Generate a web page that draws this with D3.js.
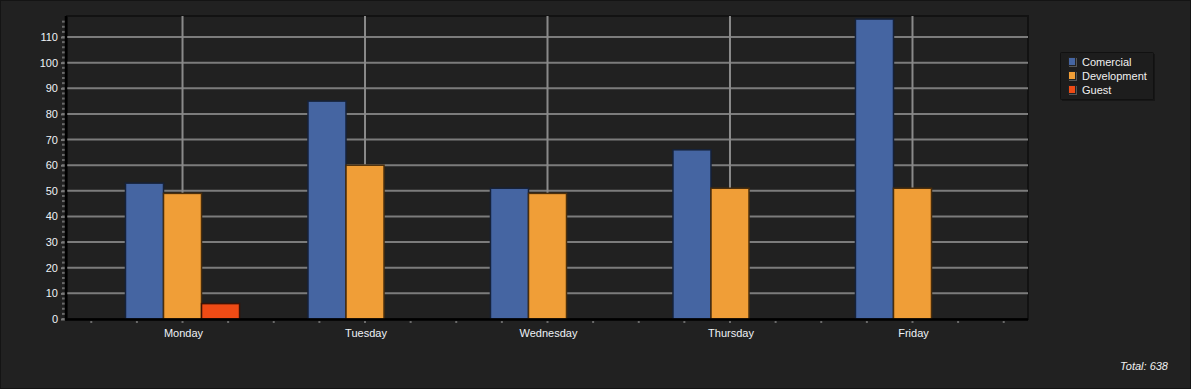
<!DOCTYPE html>
<html>
<head>
<meta charset="utf-8">
<script src="https://cdn.jsdelivr.net/npm/d3@7"></script>
<style>
  html, body { margin: 0; padding: 0; background: #212121; }
  svg { display: block; font-family: "Liberation Sans", Arial, sans-serif; }
</style>
</head>
<body>
<svg class="chart"></svg>
<script>
// chart data
var days = ["Monday", "Tuesday", "Wednesday", "Thursday", "Friday"];
var series = ["Comercial", "Development", "Guest"];
var comercial = [53, 85, 51, 66, 117];
var development = [49, 60, 49, 51, 51];
var guest = [6, 0, 0, 0, 0];
var yTicks = [0, 10, 20, 30, 40, 50, 60, 70, 80, 90, 100, 110];

var colors = {Comercial: "#4565a2", Development: "#f09e37", Guest: "#ef4b15"};
var strokes = {Comercial: "#16223a", Development: "#4a2e0c", Guest: "#3c1306"};

var W = 1191, H = 389;
var plot = {left: 67, right: 1028, top: 16, bottom: 319};

var svg = d3.select(".chart").attr("width", W).attr("height", H);

svg.append("rect").attr("x", 0.5).attr("y", 0.5).attr("width", W - 1).attr("height", H - 1)
   .attr("fill", "#212121").attr("stroke", "#141414");

var values = series.map(function(s, i){ return [comercial, development, guest][i]; });
var total = d3.sum(values, function(v){ return d3.sum(v); });

// scales
var x = d3.scalePoint().domain(days).range([plot.left, plot.right]).padding(0.633);
var step = x.step();
var groupW = step * 0.625;
var xs = d3.scaleBand().domain(series).range([-groupW / 2, groupW / 2]);
var y = d3.scaleLinear().domain([0, 118.2]).range([plot.bottom, plot.top]);

// plot frame
svg.append("rect").attr("x", plot.left).attr("y", plot.top)
   .attr("width", plot.right - plot.left).attr("height", plot.bottom - plot.top)
   .attr("fill", "#212121").attr("stroke", "#121212").attr("stroke-width", 2);

// grid
svg.append("g").selectAll("line").data(yTicks.slice(1)).enter().append("line")
   .attr("x1", plot.left).attr("x2", plot.right)
   .attr("y1", function(d){ return y(d); }).attr("y2", function(d){ return y(d); })
   .attr("stroke", "#7c7c7c").attr("stroke-width", 2);
svg.append("g").selectAll("line").data(days).enter().append("line")
   .attr("x1", function(d){ return x(d); }).attr("x2", function(d){ return x(d); })
   .attr("y1", plot.top).attr("y2", plot.bottom)
   .attr("stroke", "#8a8a8a").attr("stroke-width", 2);

// bars
var group = svg.append("g").selectAll("g").data(days).enter().append("g")
   .attr("transform", function(d){ return "translate(" + x(d) + ",0)"; });
group.selectAll("rect")
   .data(function(d, i){ return series.map(function(s, j){ return {s: s, v: values[j][i]}; }); })
   .enter().filter(function(d){ return d.v > 0; }).append("rect")
   .attr("x", function(d){ return xs(d.s); })
   .attr("width", xs.bandwidth())
   .attr("y", function(d){ return y(d.v); })
   .attr("height", function(d){ return y(0) - y(d.v); })
   .attr("fill", function(d){ return colors[d.s]; })
   .attr("stroke", function(d){ return strokes[d.s]; })
   .attr("stroke-width", 1.5);

// y axis minor ticks
svg.append("g").selectAll("line").data(d3.range(0, 118, 2)).enter().append("line")
   .attr("x1", 62).attr("x2", 65)
   .attr("y1", function(d){ return y(d); }).attr("y2", function(d){ return y(d); })
   .attr("stroke", "#6a6a6a").attr("stroke-width", 2);
// major ticks + labels
var yAxis = d3.axisLeft(y).tickValues(yTicks).tickSize(5).tickPadding(3);
var ya = svg.append("g").attr("transform", "translate(" + (plot.left - 1) + ",0)").call(yAxis);
ya.select(".domain").remove();
ya.selectAll(".tick line").attr("stroke", "#7a7a7a").attr("stroke-width", 2);
ya.selectAll(".tick text").attr("fill", "#eef2f6").style("font-size", "11px")
  .style("font-family", "Liberation Sans, Arial, sans-serif");

// x axis minor ticks
svg.append("g").selectAll("line").data(d3.range(-2, 4 * (days.length - 1) + 3)).enter().append("line")
   .attr("x1", function(i){ return x(days[0]) + i * step / 4; })
   .attr("x2", function(i){ return x(days[0]) + i * step / 4; })
   .attr("y1", plot.bottom + 2).attr("y2", plot.bottom + 4)
   .attr("stroke", "#6a6a6a").attr("stroke-width", 2);
var xAxis = d3.axisBottom(x).tickSize(0).tickPadding(10);
var xa = svg.append("g").attr("transform", "translate(0.5," + plot.bottom + ")").call(xAxis);
xa.select(".domain").remove();
xa.selectAll(".tick text").attr("fill", "#eef2f6").style("font-size", "11px")
  .style("font-family", "Liberation Sans, Arial, sans-serif");

// axis lines
svg.append("line").attr("x1", plot.left - 1).attr("x2", plot.left - 1)
   .attr("y1", plot.top).attr("y2", plot.bottom + 1.5)
   .attr("stroke", "#000").attr("stroke-width", 2.5);
svg.append("line").attr("x1", plot.left - 2).attr("x2", plot.right)
   .attr("y1", plot.bottom + 0.5).attr("y2", plot.bottom + 0.5)
   .attr("stroke", "#000").attr("stroke-width", 2.5);

// legend
var legend = svg.append("g").attr("transform", "translate(1060,52)");
legend.append("rect").attr("x", 2).attr("y", 2).attr("width", 93).attr("height", 47)
   .attr("fill", "#161616");
legend.append("rect").attr("x", 0.5).attr("y", 0.5).attr("width", 93).attr("height", 47)
   .attr("fill", "#1d1d1d").attr("stroke", "#111").attr("rx", 1);
var item = legend.selectAll("g.item").data(series).enter().append("g").attr("class", "item")
   .attr("transform", function(d, i){ return "translate(8," + (5 + i * 14) + ")"; });
item.append("rect").attr("x", 1).attr("y", 1).attr("width", 8).attr("height", 9).attr("fill", "#555");
item.append("rect").attr("x", 0.5).attr("y", 0.5).attr("width", 7).attr("height", 8)
   .attr("fill", function(d){ return colors[d]; }).attr("stroke", "#222");
item.append("text").attr("x", 14).attr("y", 8.5).text(function(d){ return d; })
   .attr("fill", "#f0f0f0").style("font-size", "11px");

// total
svg.append("text").attr("x", 1168).attr("y", 370).attr("text-anchor", "end")
   .attr("fill", "#f0f0f0").style("font-size", "11px").style("font-style", "italic")
   .text("Total: " + total);
</script>
</body>
</html>
